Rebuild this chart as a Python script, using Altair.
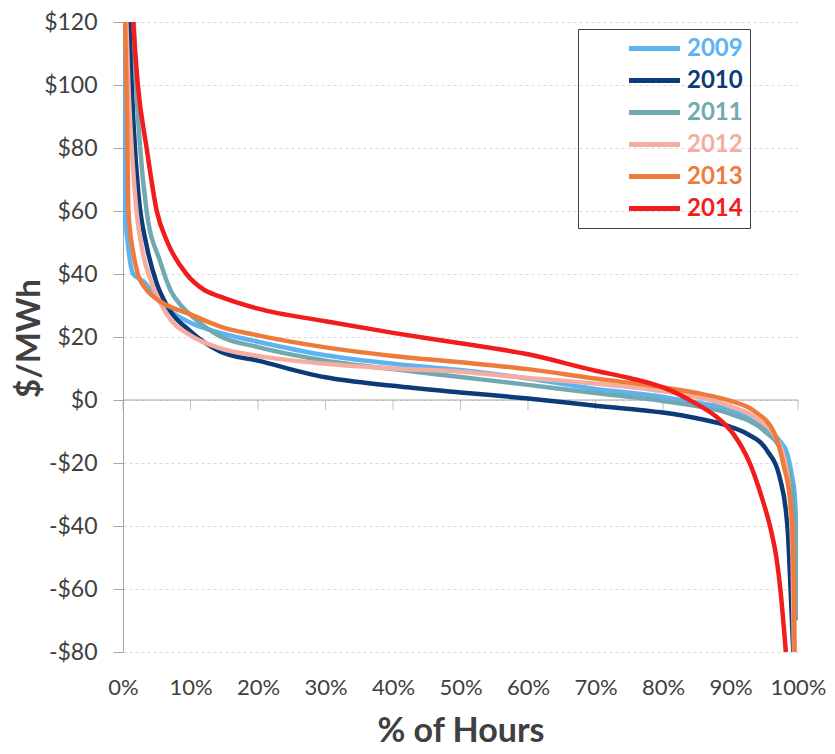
import altair as alt
import pandas as pd

years = ["2009", "2010", "2011", "2012", "2013", "2014"]
colors = ["#5DB3F2", "#0B3B78", "#70AAB0", "#F5ADA2", "#EE7B3B", "#F21C1C"]

pct_2009 = [0, 0.1, 0.2, 0.3, 0.7, 1.5, 3, 5.5, 10, 15, 20, 30, 40, 50, 60, 70, 80, 85, 90, 94, 97.3, 98.4, 99.1, 99.5, 99.8, 100]
val_2009 = [120, 100, 80, 60, 50, 40, 37.7, 31, 24.5, 21, 18.5, 14.2, 11.5, 9.5, 6.8, 3.5, 1, -0.9, -3, -7.6, -13, -17, -24, -30, -45, -69]

pct_2010 = [1.0, 1.3, 1.6, 2.3, 3.5, 5, 6.5, 10, 14.3, 20, 30, 40, 50, 60, 70, 80, 85, 90, 92.5, 95.4, 97.3, 98.2, 98.5, 98.9, 99.3]
val_2010 = [120, 100, 86, 65, 49, 37, 30, 21.8, 15.5, 12.5, 7.2, 4.5, 2.4, 0.5, -1.8, -4, -5.8, -8.5, -10.8, -16, -24.7, -35, -42, -60, -80]

pct_2011 = [1.6, 1.8, 2.5, 3.5, 5.5, 7, 8.8, 10, 14.3, 20, 30, 40, 50, 60, 70, 80, 85, 90, 95, 97.5, 98.8, 99.6, 100]
val_2011 = [120, 107, 81, 60, 44, 35, 29.5, 27, 20.3, 16.8, 12.5, 9.8, 7.3, 4.8, 2.2, -0.3, -1.9, -4.4, -9.8, -16, -24, -40, -70]

pct_2012 = [0.5, 0.8, 1, 2, 3, 4, 6.5, 10, 14.3, 20, 30, 40, 50, 60, 70, 80, 85, 90, 94, 97, 98.5, 99.2, 99.4]
val_2012 = [120, 100, 91, 60, 46, 38.6, 27.2, 20.5, 16.5, 14, 11.5, 10, 9, 7, 5.2, 2.8, 1, -2, -6, -13, -25, -50, -80]

pct_2013 = [0.3, 0.6, 0.8, 1.5, 2.2, 3.5, 5.5, 10, 14.3, 20, 30, 40, 50, 60, 70, 80, 85, 90, 93.5, 96.5, 97.9, 98.9, 99.2, 99.4, 99.5]
val_2013 = [120, 90, 60, 47, 40, 35, 31.3, 27.2, 23.4, 20.5, 16.7, 14, 12, 9.8, 6.8, 4, 2.2, -0.3, -3.5, -10.5, -21, -33, -42, -60, -80]

pct_2014 = [1.5, 2.2, 3.5, 5, 6.6, 9.4, 12, 14.3, 20, 30, 40, 50, 60, 70, 75, 80, 85, 88, 90.5, 92.9, 94.5, 95.9, 96.8, 97.4, 98.2]
val_2014 = [120, 100, 80, 60, 50, 40, 35, 32.9, 29, 25, 21.3, 18, 14.5, 9.3, 7, 4, -1.3, -5.5, -11, -20.3, -30, -40.5, -50, -60.4, -80]

pcts = [pct_2009, pct_2010, pct_2011, pct_2012, pct_2013, pct_2014]
vals = [val_2009, val_2010, val_2011, val_2012, val_2013, val_2014]

x_ticks = [0, 10, 20, 30, 40, 50, 60, 70, 80, 90, 100]
y_ticks = [-80, -60, -40, -20, 0, 20, 40, 60, 80, 100, 120]

rows = []
for i, (yr, p, v) in enumerate(zip(years, pcts, vals)):
    for a, b in zip(p, v):
        rows.append({"year": yr, "pct": a, "val": b, "k": i})
df = pd.DataFrame(rows)

zero_df = pd.DataFrame({"val": [0]})
tick_df = pd.DataFrame({"pct": x_ticks, "val": [0] * len(x_ticks)})

FONT = "Lato"
TXT = "#404040"
AXC = "#A6A6A6"

xscale = alt.Scale(domain=[0, 100], nice=False)
yscale = alt.Scale(domain=[-80, 120], nice=False)

xaxis = alt.Axis(values=x_ticks, labelExpr="datum.value + '%'", title="% of Hours",
                 domain=False, ticks=False, grid=False, labelPadding=25,
                 labelFlush=False, labelOverlap=False,
                 labelFontSize=22, labelFont=FONT, labelColor=TXT,
                 titleFontSize=34, titleFont=FONT, titleFontWeight="bold", titleColor=TXT,
                 titleY=79, titleBaseline="middle")
yaxis = alt.Axis(values=y_ticks, labelExpr="(datum.value < 0 ? '-$' : '$') + abs(datum.value)",
                 title="$/MWh", domain=True, domainColor=AXC, ticks=True, tickColor=AXC,
                 tickSize=10, labelPadding=16, labelFontSize=23, labelFont=FONT, labelColor=TXT,
                 labelOverlap=False, labelFlush=False,
                 grid=True, gridColor="#D9D9D9", gridDash=[3, 3],
                 titleFontSize=33, titleFont=FONT, titleFontWeight="bold", titleColor=TXT,
                 titleX=-94, titleY=316, titleAngle=270, titleBaseline="middle", titleAlign="center")

zero = alt.Chart(zero_df).mark_rule(color=AXC, strokeWidth=1).encode(
    y=alt.Y("val:Q", scale=yscale, axis=yaxis)
)
ticks = alt.Chart(tick_df).mark_tick(orient="vertical", color=AXC, size=10, thickness=1, yOffset=5).encode(
    x=alt.X("pct:Q", scale=xscale, axis=xaxis),
    y=alt.Y("val:Q", scale=yscale, axis=yaxis),
)
lines = alt.Chart(df).mark_line(strokeWidth=4.5, interpolate="monotone", clip=True).encode(
    x=alt.X("pct:Q", scale=xscale, axis=xaxis),
    y=alt.Y("val:Q", scale=yscale, axis=yaxis),
    color=alt.Color("year:N", scale=alt.Scale(domain=years, range=colors),
                    legend=alt.Legend(title=None, orient="none", legendX=455, legendY=7,
                                      symbolType="M-2.55,0L2.55,0", symbolSize=400, symbolStrokeWidth=5,
                                      symbolOffset=57, labelOffset=20,
                                      labelFont=FONT, labelFontSize=24, labelFontWeight="bold",
                                      labelColor={"expr": "scale('color', datum.value)"},
                                      labelExpr="datum.label + '       '",
                                      strokeColor="#404040", padding=7, rowPadding=7)),
    order=alt.Order("k:Q"),
)

chart = alt.layer(zero, ticks, lines).properties(
    width=675, height=630,
    autosize=alt.AutoSizeParams(type="none"),
    padding={"left": 115, "top": 14, "right": 29, "bottom": 100},
    background="white",
).configure_view(stroke=None)

chart.save("out.html", embed_options={"renderer": "svg", "actions": False})
